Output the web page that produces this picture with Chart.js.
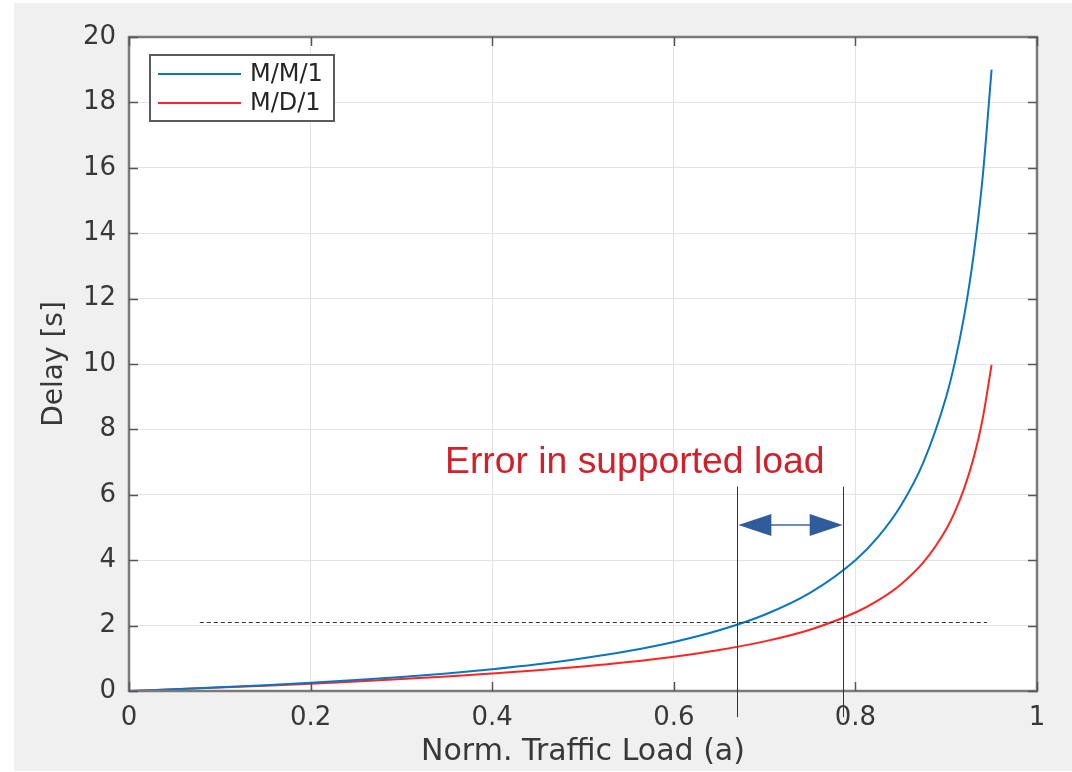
<!DOCTYPE html>
<html>
<head>
<meta charset="utf-8">
<script src="https://cdn.jsdelivr.net/npm/chart.js@4"></script>
<style>
  html, body { margin: 0; padding: 0; background: #ffffff; }
  #wrap { width: 1072px; height: 772px; }
</style>
</head>
<body>
<div id="wrap"><canvas id="grafico" width="1072" height="772"></canvas></div>
<script>
// Carga normalizada (a)
const cargas = [0, 0.05, 0.1, 0.15, 0.2, 0.25, 0.3, 0.35, 0.4, 0.45, 0.5, 0.55, 0.6, 0.65,
  0.7, 0.75, 0.8, 0.825, 0.85, 0.875, 0.9, 0.91, 0.92, 0.93, 0.94, 0.95];

// Atraso M/M/1
const atrasoMM1 = [0, 0.053, 0.111, 0.176, 0.25, 0.333, 0.429, 0.538, 0.667, 0.818, 1.0, 1.222,
  1.5, 1.857, 2.333, 3.0, 4.0, 4.714, 5.667, 7.0, 9.0, 10.11, 11.5, 13.29, 15.67, 19.0];

// Atraso M/D/1
const atrasoMD1 = [0, 0.051, 0.106, 0.163, 0.225, 0.292, 0.364, 0.444, 0.533, 0.634, 0.75, 0.886,
  1.05, 1.254, 1.517, 1.875, 2.4, 2.77, 3.258, 3.938, 4.95, 5.511, 6.21, 7.108, 8.303, 9.975];

const legendas = ['M/M/1', 'M/D/1'];
const cores = ['#0a76c0', '#ff2424'];

const ticksX = [0, 0.2, 0.4, 0.6, 0.8, 1];
const ticksY = [0, 2, 4, 6, 8, 10, 12, 14, 16, 18, 20];

// Anotação: linha tracejada, linhas verticais e seta
const nivelAtraso = 2.12;
const tracejadoInicio = 0.078;
const tracejadoFim = 0.945;
const cargaLimites = [0.67, 0.786];
const verticalTopo = 6.25;
const verticalBase = -0.8;
const setaAtraso = 5.08;
const textoErro = 'Error in supported load';

Chart.defaults.font.family = '"DejaVu Sans", sans-serif';
Chart.defaults.color = '#383838';

// Fundo cinza estilo MATLAB
const fundoPlugin = {
  id: 'fundo',
  beforeDraw(chart) {
    const { ctx, width, height, chartArea } = chart;
    ctx.save();
    ctx.fillStyle = '#ffffff';
    ctx.fillRect(0, 0, width, height);
    ctx.fillStyle = '#f0f0f0';
    ctx.fillRect(14, 3, width - 14, 768);
    ctx.fillStyle = '#ffffff';
    ctx.fillRect(chartArea.left, chartArea.top, chartArea.width, chartArea.height);
    ctx.restore();
  }
};

// Moldura, ticks internos, anotações e legenda
const extrasPlugin = {
  id: 'extras',
  afterDraw(chart) {
    const { ctx, chartArea: a, scales: { x, y } } = chart;
    ctx.save();

    // moldura dos eixos
    ctx.strokeStyle = '#7a7a7a';
    ctx.lineWidth = 2.5;
    ctx.strokeRect(a.left, a.top, a.width, a.height);

    // ticks para dentro
    ctx.lineWidth = 1.5;
    ctx.strokeStyle = '#555555';
    ctx.beginPath();
    ticksY.forEach(v => {
      const py = Math.round(y.getPixelForValue(v)) + 0.5;
      ctx.moveTo(a.left, py); ctx.lineTo(a.left + 9, py);
      ctx.moveTo(a.right, py); ctx.lineTo(a.right - 9, py);
    });
    ticksX.forEach(v => {
      const px = Math.round(x.getPixelForValue(v)) + 0.5;
      ctx.moveTo(px, a.bottom); ctx.lineTo(px, a.bottom - 9);
      ctx.moveTo(px, a.top); ctx.lineTo(px, a.top + 9);
    });
    ctx.stroke();

    // linha tracejada horizontal
    const yNivel = Math.round(y.getPixelForValue(nivelAtraso)) + 0.5;
    ctx.strokeStyle = '#333333';
    ctx.lineWidth = 1;
    ctx.setLineDash([4, 3]);
    ctx.beginPath();
    ctx.moveTo(x.getPixelForValue(tracejadoInicio), yNivel);
    ctx.lineTo(x.getPixelForValue(tracejadoFim), yNivel);
    ctx.stroke();
    ctx.setLineDash([]);

    // linhas verticais
    ctx.strokeStyle = '#333333';
    ctx.lineWidth = 1;
    ctx.beginPath();
    cargaLimites.forEach(c => {
      const px = Math.round(x.getPixelForValue(c)) + 0.5;
      ctx.moveTo(px, y.getPixelForValue(verticalTopo));
      ctx.lineTo(px, y.getPixelForValue(verticalBase));
    });
    ctx.stroke();

    // seta dupla
    const x1 = x.getPixelForValue(cargaLimites[0]) + 1;
    const x2 = x.getPixelForValue(cargaLimites[1]);
    const ys = y.getPixelForValue(setaAtraso);
    ctx.strokeStyle = '#3a66a8';
    ctx.lineWidth = 1.5;
    ctx.beginPath();
    ctx.moveTo(x1 + 30, ys); ctx.lineTo(x2 - 30, ys);
    ctx.stroke();
    ctx.fillStyle = '#2f5d9c';
    ctx.beginPath();
    ctx.moveTo(x1, ys); ctx.lineTo(x1 + 33, ys - 11); ctx.lineTo(x1 + 33, ys + 11); ctx.closePath();
    ctx.moveTo(x2, ys); ctx.lineTo(x2 - 33, ys - 11); ctx.lineTo(x2 - 33, ys + 11); ctx.closePath();
    ctx.fill();

    // texto da anotação
    ctx.fillStyle = '#d0202a';
    ctx.font = '37.3px "Liberation Sans", Arial, sans-serif';
    ctx.textAlign = 'left';
    ctx.textBaseline = 'alphabetic';
    ctx.fillText(textoErro, 445, 473);

    // legenda
    const lx = 150, ly = 55, lw = 184, lh = 66;
    ctx.fillStyle = '#ffffff';
    ctx.fillRect(lx, ly, lw, lh);
    ctx.strokeStyle = '#5a5a5a';
    ctx.lineWidth = 2;
    ctx.strokeRect(lx, ly, lw, lh);
    ctx.font = '24px "DejaVu Sans", sans-serif';
    ctx.textBaseline = 'middle';
    legendas.forEach((nome, i) => {
      const yy = ly + 19 + i * 29;
      ctx.strokeStyle = cores[i];
      ctx.lineWidth = 2;
      ctx.beginPath();
      ctx.moveTo(lx + 8, yy); ctx.lineTo(lx + 91, yy);
      ctx.stroke();
      ctx.fillStyle = '#262626';
      ctx.fillText(nome, lx + 100, yy + 1);
    });

    ctx.restore();
  }
};

const ctx = document.getElementById('grafico');
new Chart(ctx, {
  type: 'line',
  data: {
    datasets: [
      {
        label: legendas[0],
        data: cargas.map((c, i) => ({ x: c, y: atrasoMM1[i] })),
        borderColor: cores[0],
        borderWidth: 2,
        pointRadius: 0,
        cubicInterpolationMode: 'monotone'
      },
      {
        label: legendas[1],
        data: cargas.map((c, i) => ({ x: c, y: atrasoMD1[i] })),
        borderColor: cores[1],
        borderWidth: 2,
        pointRadius: 0,
        cubicInterpolationMode: 'monotone'
      }
    ]
  },
  options: {
    responsive: false,
    animation: false,
    layout: { padding: { left: 0, top: 37, right: 35, bottom: 0 } },
    plugins: {
      legend: { display: false },
      tooltip: { enabled: false }
    },
    scales: {
      x: {
        type: 'linear',
        min: 0,
        max: 1,
        afterBuildTicks: s => { s.ticks = ticksX.map(v => ({ value: v })); },
        afterFit: s => { s.height = 81; },
        grid: { color: '#e3e3e3', lineWidth: 1, drawTicks: false },
        border: { display: false },
        ticks: {
          padding: 12,
          font: { size: 26 },
          maxRotation: 0,
          callback: v => String(v)
        },
        title: {
          display: true,
          text: 'Norm. Traffic Load (a)',
          font: { size: 30 },
          padding: { top: 0, bottom: 2 }
        }
      },
      y: {
        min: 0,
        max: 20,
        afterBuildTicks: s => { s.ticks = ticksY.map(v => ({ value: v })); },
        afterFit: s => { s.width = 129; },
        grid: { color: '#e3e3e3', lineWidth: 1, drawTicks: false },
        border: { display: false },
        ticks: {
          padding: 13,
          font: { size: 26 }
        },
        title: {
          display: true,
          text: 'Delay [s]',
          font: { size: 28 },
          padding: { top: 38, bottom: 0 }
        }
      }
    }
  },
  plugins: [fundoPlugin, extrasPlugin]
});
</script>
</body>
</html>
